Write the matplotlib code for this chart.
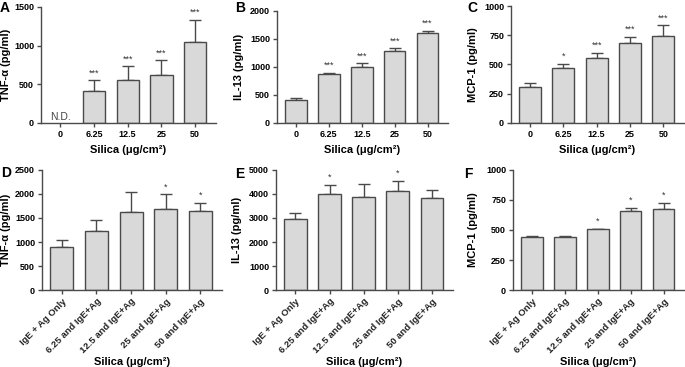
import matplotlib.pyplot as plt
import numpy as np

plt.rcParams['font.family'] = ['Liberation Sans', 'DejaVu Sans']

# Data
doses = ['0', '6.25', '12.5', '25', '50']
doses_ag = ['IgE + Ag Only', '6.25 and IgE+Ag', '12.5 and IgE+Ag', '25 and IgE+Ag', '50 and IgE+Ag']

tnf_mean = [np.nan, 411, 553, 626, 1050]
tnf_sem = [0, 142, 180, 184, 283]
tnf_sig = ['', '***', '***', '***', '***']

il13_mean = [417, 869, 1000, 1280, 1607]
il13_sem = [29, 30, 65, 53, 42]
il13_sig = ['', '***', '***', '***', '***']

mcp_mean = [307, 474, 554, 682, 744]
mcp_sem = [34, 29, 43, 57, 91]
mcp_sig = ['', '*', '***', '***', '***']

tnf_ag_mean = [896, 1222, 1618, 1688, 1639]
tnf_ag_sem = [139, 229, 417, 305, 174]
tnf_ag_sig = ['', '', '', '*', '*']

il13_ag_mean = [2944, 3986, 3873, 4127, 3817]
il13_ag_sem = [267, 380, 550, 422, 338]
il13_ag_sig = ['', '*', '', '*', '']

mcp_ag_mean = [438, 443, 506, 659, 676]
mcp_ag_sem = [14, 3, 5, 26, 51]
mcp_ag_sig = ['', '', '*', '*', '*']

BAR = '#d9d9d9'
EDGE = '#4a4a4a'
W, H = 685, 367

fig = plt.figure(figsize = (6.85, 3.67), dpi = 100)


def make_ax(box):
    x0, x1, ytop, ybot = box
    return fig.add_axes([x0 / W, 1 - ybot / H, (x1 - x0) / W, (ybot - ytop) / H])


def panel(box, letter, letter_xy, ylab_x, xlab_y, labels, mean, sem, sig, ylabel, ymax, ystep, rotate, nd = False):
    ax = make_ax(box)
    x0, x1, ytop, ybot = box
    x = np.arange(len(labels))
    ax.bar(x, mean, width = 0.66, color = BAR, edgecolor = EDGE, linewidth = 1.0, zorder = 2)
    ax.errorbar(x, mean, yerr = [np.zeros(len(x)), sem], fmt = 'none', ecolor = EDGE,
                elinewidth = 1.0, capsize = 4, capthick = 1.0, zorder = 1)
    for xi, m, s, t in zip(x, mean, sem, sig):
        if t and not np.isnan(m):
            ax.text(xi, m + s + ymax * 0.025, t, ha = 'center', va = 'bottom',
                    fontsize = 6.5, color = '#333333')
    if nd:
        ax.text(0, ymax * 0.005, 'N.D.', ha = 'center', va = 'bottom', fontsize = 7.5, color = '#444444')
    ax.set_xlim(-0.57, 4.62)
    ax.set_ylim(0, ymax)
    ax.set_yticks(np.arange(0, ymax + 1, ystep))
    ax.set_xticks(x)
    for s in ['top', 'right']:
        ax.spines[s].set_visible(False)
    for s in ['left', 'bottom']:
        ax.spines[s].set_color(EDGE)
        ax.spines[s].set_linewidth(1.0)
    ax.tick_params(axis = 'both', colors = EDGE, width = 1.0, length = 3, labelsize = 6.5, pad = 2)
    for lab in ax.get_yticklabels():
        lab.set_fontweight('bold')
        lab.set_color('black')
    if rotate:
        ax.set_xticklabels(labels, rotation = 45, ha = 'right', rotation_mode = 'anchor',
                           fontsize = 6.8, fontweight = 'bold', color = '#222222')
    else:
        ax.set_xticklabels(labels, fontsize = 6.5, fontweight = 'bold', color = 'black')
    ax.set_xlabel('Silica (\u03bcg/cm\u00b2)', fontsize = 8, fontweight = 'bold', va = 'center')
    ax.xaxis.set_label_coords(0.5, (ybot - xlab_y) / (ybot - ytop))
    ax.set_ylabel(ylabel, fontsize = 8, fontweight = 'bold', va = 'center')
    ax.yaxis.set_label_coords((ylab_x - x0) / (x1 - x0), 0.5)
    fig.text(letter_xy[0] / W, 1 - letter_xy[1] / H, letter, fontsize = 10, fontweight = 'bold',
             ha = 'left', va = 'center')
    return ax


panel((41, 216, 7, 123), 'A', (0, 8), 6, 150, doses, tnf_mean, tnf_sem, tnf_sig,
      'TNF-\u03b1 (pg/ml)', 1500, 500, False, nd = True)
panel((277, 448, 11, 123), 'B', (235, 8), 239, 150, doses, il13_mean, il13_sem, il13_sig,
      'IL-13 (pg/ml)', 2000, 500, False)
panel((511, 684, 6, 123), 'C', (467, 8), 473, 150, doses, mcp_mean, mcp_sem, mcp_sig,
      'MCP-1 (pg/ml)', 1000, 250, False)
panel((42, 222, 170, 290), 'D', (1, 173), 6, 362, doses_ag, tnf_ag_mean, tnf_ag_sem, tnf_ag_sig,
      'TNF-\u03b1 (pg/ml)', 2500, 500, True)
panel((276, 453, 170, 290), 'E', (235, 174), 237, 362, doses_ag, il13_ag_mean, il13_ag_sem, il13_ag_sig,
      'IL-13 (pg/ml)', 5000, 1000, True)
panel((513, 684, 170, 290), 'F', (464, 174), 473, 362, doses_ag, mcp_ag_mean, mcp_ag_sem, mcp_ag_sig,
      'MCP-1 (pg/ml)', 1000, 250, True)

fig.savefig('out.png', dpi = 100)
